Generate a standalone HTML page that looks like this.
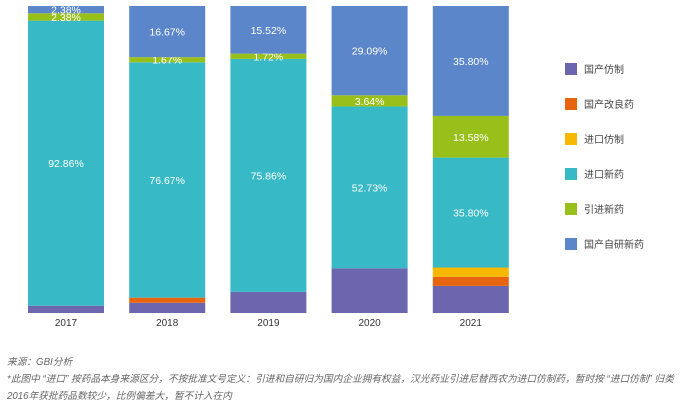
<!DOCTYPE html>
<html><head><meta charset="utf-8"><style>
body{margin:0;background:#fff;width:684px;height:409px;overflow:hidden;font-family:"Liberation Sans","Noto Sans CJK SC",sans-serif;}
svg{position:absolute;left:0;top:0}
.fn{position:absolute;left:7px;font-size:9.7px;color:#666;font-style:italic;white-space:nowrap}
</style></head><body>
<svg id="chart" width="684" height="409"></svg>
<div class="fn" style="top:354px">来源：GBI分析</div>
<div class="fn" style="top:371px">*此图中 “进口” 按药品本身来源区分，不按批准文号定义：引进和自研归为国内企业拥有权益，汉光药业引进尼替西农为进口仿制药，暂时按 “进口仿制” 归类</div>
<div class="fn" style="top:388px">2016年获批药品数较少，比例偏差大，暂不计入在内</div>
<script>
const categories=["2017","2018","2019","2020","2021"];
const seriesNames=["国产仿制","国产改良药","进口仿制","进口新药","引进新药","国产自研新药"];
const colors=["#6b66ad","#e8650f","#f6b800","#38b9c6","#99c01a","#5b86c9"];
const s0=[2.38,3.33,6.9,14.55,8.82];
const s1=[0,1.67,0,0,3.0];
const s2=[0,0,0,0,3.0];
const s3=[92.86,76.67,75.86,52.73,35.80];
const s4=[2.38,1.67,1.72,3.64,13.58];
const s5=[2.38,16.67,15.52,29.09,35.80];
const labeled=[false,false,false,true,true,true];
const series=[s0,s1,s2,s3,s4,s5];
const svg=document.getElementById('chart');
const NS="http://www.w3.org/2000/svg";
const top0=6,bottom0=313,x0=28,step=101.2,bw=76;
const y=v=>bottom0-v/100*(bottom0-top0);
const xb=i=>x0+i*step;
function mk(t,a){const e=document.createElementNS(NS,t);for(const k in a)e.setAttribute(k,a[k]);svg.appendChild(e);return e;}
categories.forEach((c,i)=>{
  let cum=0;
  series.forEach((s,k)=>{
    const v=s[i];if(v<=0)return;
    const r=mk('rect',{x:xb(i),y:y(cum+v),width:bw,height:y(cum)-y(cum+v),fill:colors[k]});
    
    
    if(labeled[k]){
      const t=mk('text',{x:xb(i)+bw/2,y:(y(cum)+y(cum+v))/2+4,'text-anchor':'middle','font-size':10.5,fill:'#fff'});
      t.textContent=v.toFixed(2)+'%';
      
      
    }
    cum+=v;
  });
  const t=mk('text',{x:xb(i)+bw/2,y:326,'text-anchor':'middle','font-size':10,fill:'#333'});
  t.textContent=c;
  
  
});
seriesNames.forEach((n,k)=>{
  const cy=69+k*35;
  const r=mk('rect',{x:565,y:cy-6,width:12,height:12,fill:colors[k]});
  
  
  const t=mk('text',{x:584,y:cy+4,'font-size':10,fill:'#444'});
  t.textContent=n;
  
  
});
</script>
</body></html>
